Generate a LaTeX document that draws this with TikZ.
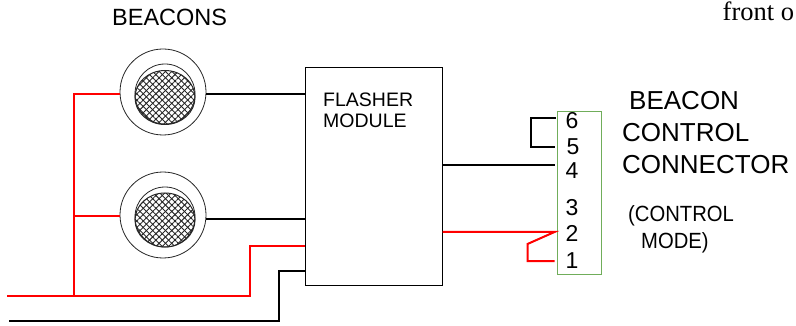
\documentclass[tikz,border=0pt]{standalone}
\usepackage{fontspec}
\setmainfont{Liberation Sans}
\newfontfamily\serifnote{Liberation Serif}
\usetikzlibrary{shapes, positioning, calc, patterns.meta}
\definecolor{wirered}{RGB}{255, 0, 0}
\definecolor{connectorgreen}{RGB}{112, 173, 90}

\tikzset{
  wire/.style={line width=2pt, black},
  redwire/.style={line width=2pt, wirered},
  outerring/.style={draw=black!85, circle, line width=0.8pt, minimum size=86pt, inner sep=0pt},
  innerring/.style={draw=black!85, circle, line width=0.8pt, minimum size=60pt, inner sep=0pt},
  lens/.style={draw=black!85, ellipse, line width=1pt, minimum width=60pt, minimum height=54pt, inner sep=0pt,
    preaction={pattern={Lines[angle=45, distance=4.5pt, line width=0.9pt]}, pattern color=black!85},
    pattern={Lines[angle=-45, distance=4.5pt, line width=0.9pt]}, pattern color=black!85},
  textlabel/.style={inner sep=0pt, anchor=base west, font=\fontsize{26}{26}\selectfont},
  pin/.style={inner sep=0pt, anchor=base, font=\fontsize{23}{23}\selectfont},
}

\begin{document}
\begin{tikzpicture}[x=1pt, y=-1pt]
  \useasboundingbox (0,0) rectangle (796,326);

  % flasher module and connector
  \node[draw, line width=1pt, minimum width=137pt, minimum height=217pt, inner sep=0pt] (module) at (373.5,176.5) {};
  \node[draw=connectorgreen, line width=1pt, minimum width=44pt, minimum height=162pt, inner sep=0pt] (connector) at (579,193) {};

  % beacons
  \node[outerring] (beacontop) at (163,92) {};
  \node[innerring] (ringtop) at (165,94) {};
  \node[lens] (lenstop) at (165,97.5) {};
  \node[outerring] (beaconlow) at (163,215) {};
  \node[innerring] (ringlow) at (165,217) {};
  \node[lens] (lenslow) at (165,220) {};

  % free ends and bends
  \coordinate (redin) at (7,296);
  \coordinate (blackin) at (9,321);
  \coordinate (redbus) at (74,296);
  \coordinate (redstep) at (250,296);
  \coordinate (blackstep) at (279,321);
  \coordinate (pinsix) at (connector.west |- 0,118);
  \coordinate (pinfive) at (connector.west |- 0,147);
  \coordinate (pinfour) at (connector.west |- 0,165);
  \coordinate (pintwo) at (connector.west |- 0,232);
  \coordinate (pinone) at (connector.west |- 0,261);

  % wires on the left
  \draw[redwire] (redin) -- (redstep) |- (module.west |- 0,246);
  \draw[redwire] (redbus) |- (beacontop.183);
  \draw[redwire] (redbus |- beaconlow.181) -- (beaconlow.181);
  \draw[wire] (blackin) -- (blackstep) |- (module.west |- 0,271);
  \draw[wire] (beacontop.-3) -- (module.west |- beacontop.-3);
  \draw[wire] (beaconlow.-5) -- (module.west |- beaconlow.-5);

  % wires on the right
  \draw[wire] ([xshift=-1pt]pinsix) -- ++(-25,0) |- ([xshift=-2pt]pinfive);
  \draw[wire] (module.east |- pinfour) -- ([xshift=-2pt]pinfour);
  \draw[redwire] (module.east |- pintwo) -- ([xshift=-2pt]pintwo) -- ++(-27,12) |- ([xshift=-2pt]pinone);

  % pin numbers
  \node[pin] (numsix) at (572,129) {6};
  \node[pin] (numfive) at (573,155) {5};
  \node[pin] (numfour) at (572,179) {4};
  \node[pin] (numthree) at (572,215) {3};
  \node[pin] (numtwo) at (572,242) {2};
  \node[pin] (numone) at (572,269) {1};

  % texts
  \node[textlabel, font=\fontsize{23.5}{23.5}\selectfont] (titlebeacons) at (112,26) {BEACONS};
  \node[textlabel, font=\fontsize{19.5}{19.5}\selectfont] (flasher) at (323,107) {FLASHER};
  \node[textlabel, font=\fontsize{19.5}{19.5}\selectfont] (flashermodule) at (323,128) {MODULE};
  \node[textlabel] (beacon) at (629,110) {BEACON};
  \node[textlabel] (control) at (622,142) {CONTROL};
  \node[textlabel] (connectortext) at (622,174) {CONNECTOR};
  \node[textlabel, font=\fontsize{22}{22}\selectfont, xscale=0.92] (controlmode) at (628,222) {(CONTROL};
  \node[textlabel, font=\fontsize{22}{22}\selectfont, xscale=0.92] (mode) at (641,248) {MODE)};
  \node[textlabel, font=\fontsize{26.5}{26.5}\selectfont\serifnote] (front) at (722.5,21) {front o};
\end{tikzpicture}
\end{document}
